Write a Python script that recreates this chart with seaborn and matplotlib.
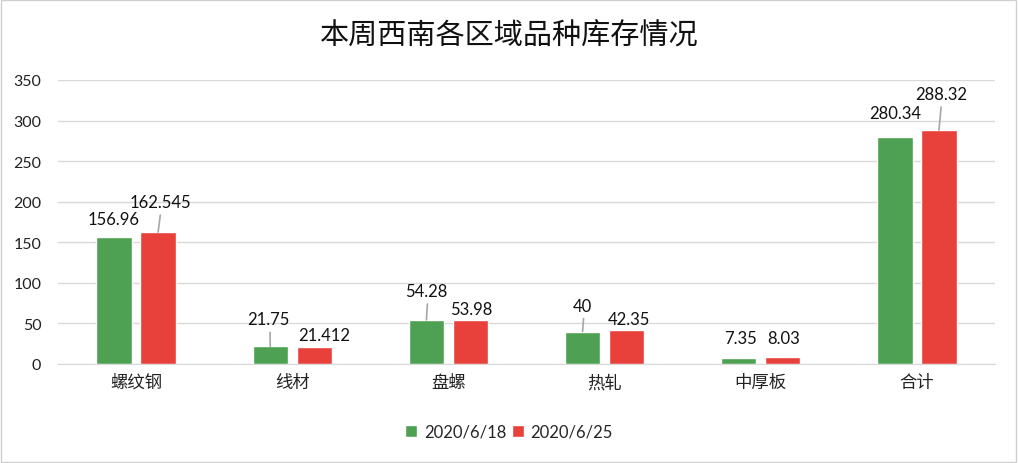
import numpy as np
import pandas as pd
import matplotlib
matplotlib.use("Agg")
import matplotlib.pyplot as plt
import seaborn as sns
from matplotlib.patches import Rectangle

categories = ["螺纹钢", "线材", "盘螺", "热轧", "中厚板", "合计"]
dates = ["2020/6/18", "2020/6/25"]
week1 = [156.96, 21.75, 54.28, 40, 7.35, 280.34]
week2 = [162.545, 21.412, 53.98, 42.35, 8.03, 288.32]
label1 = ["156.96", "21.75", "54.28", "40", "7.35", "280.34"]
label2 = ["162.545", "21.412", "53.98", "42.35", "8.03", "288.32"]

# label offsets (pixels, from bar top centre) and whether a leader line is drawn
off1 = [(0, 18), (-2, 27), (0, 29), (0, 26), (2, 20), (0, 24)]
off2 = [(2, 30), (10, 12), (1, 11), (2, 11), (1, 19), (2, 36)]
lead1 = [False, True, True, True, False, False]
lead2 = [True, False, False, False, False, True]

colors = ["#4ea152", "#e8403a"]

df = pd.DataFrame({
    "cat": categories * 2,
    "date": [dates[0]] * 6 + [dates[1]] * 6,
    "val": week1 + week2,
})

sns.set_style("white")
plt.rcParams['font.family'] = ['Lato', 'Noto Sans CJK SC', 'DejaVu Sans']

fig = plt.figure(figsize=(10.18, 4.64), dpi=100)
ax = fig.add_axes([58 / 1018, 1 - 365 / 464, 937 / 1018, 284 / 464])

sns.barplot(data=df, x="cat", y="val", hue="date", palette=colors,
            width=0.564, gap=0.2, ax=ax, legend=True, saturation=1)

ax.set_ylim(0, 350)
ax.set_xlim(-0.5, 5.5)
ax.set_yticks(np.arange(0, 351, 50))
ax.grid(axis="y", color="#d9d9d9", linewidth=1)
ax.set_axisbelow(True)
for s in ["top", "right", "left"]:
    ax.spines[s].set_visible(False)
ax.spines["bottom"].set_color("#d9d9d9")
ax.tick_params(axis="both", length=0, colors="#222222")
ax.tick_params(axis="y", labelsize=11.5, pad=12)
ax.tick_params(axis="x", labelsize=12.5, pad=7)
ax.set_xlabel("")
ax.set_ylabel("")

bars = ax.patches
n = len(categories)
for i in range(n):
    for k, (labs, offs, leads) in enumerate([(label1, off1, lead1),
                                             (label2, off2, lead2)]):
        p = bars[k * n + i]
        xc = p.get_x() + p.get_width() / 2
        y = p.get_height()
        dx, dy = offs[i]
        ax.annotate(labs[i], (xc, y), xytext=(dx, dy), textcoords="offset pixels",
                    ha="center", va="center", fontsize=12, color="#111111")
        if leads[i]:
            ax.annotate("", (xc, y), xytext=(dx * 0.6 + 1, dy - 13),
                        textcoords="offset pixels",
                        arrowprops=dict(arrowstyle="-", color="#a6a6a6", lw=1.2,
                                        shrinkA=0, shrinkB=0))

handles, labels = ax.get_legend_handles_labels()
ax.legend_.remove()
fig.legend(handles, labels, loc="center", bbox_to_anchor=(0.5, 1 - 433 / 464), ncol=2,
           frameon=False, fontsize=12, handlelength=0.75, handleheight=0.75,
           handletextpad=0.4, columnspacing=0.3)

fig.text(0.5, 1 - 36 / 464, "本周西南各区域品种库存情况", ha="center", va="center",
         fontsize=21, color="#111111", fontweight="light")

fig.patches.append(Rectangle((0.001, 0.002), 0.997, 0.995, transform=fig.transFigure,
                             fill=False, edgecolor="#d0d0d0", linewidth=1))

fig.savefig("out.png", dpi=100)
